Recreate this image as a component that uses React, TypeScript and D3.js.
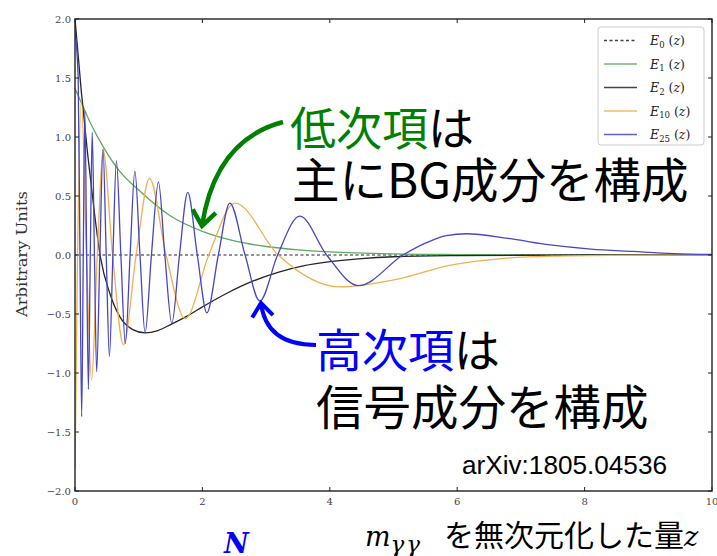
import React from 'react';
import * as d3 from 'd3';

const W = 717;
const H = 556;

const xTicks = [0, 2, 4, 6, 8, 10];
const yTicks = [-2, -1.5, -1, -0.5, 0, 0.5, 1, 1.5, 2];
const yTickLabels = ['\u22122.0', '\u22121.5', '\u22121.0', '\u22120.5', '0.0', '0.5', '1.0', '1.5', '2.0'];

const legendNames = ['0', '1', '2', '10', '25'];

// E0 (z): flat reference
const e0Z = [0, 10];
const e0V = [0, 0];

// E1 (z)
const e1Z = [0, 0.1, 0.25, 0.45, 0.7, 1.0, 1.5, 2.0, 2.5, 3.0, 3.5, 4.0, 5.0, 6.0, 7.0, 8.0, 10];
const e1V = [1.41, 1.29, 1.11, 0.91, 0.71, 0.55, 0.33, 0.2, 0.12, 0.072, 0.044, 0.027, 0.01, 0.004, 0.0015, 0.0005, 0];

// E2 (z)
const e2Z = [0, 0.1, 0.2, 0.3, 0.4, 0.55, 0.7, 0.9, 1.1, 1.3, 1.5, 1.75, 2.0, 2.4, 2.8, 3.2, 3.6, 4.0, 4.5, 5.0, 6.0, 7.0, 8.0, 10];
const e2V = [2.0, 1.38, 0.85, 0.38, -0.02, -0.33, -0.52, -0.63, -0.66, -0.64, -0.59, -0.52, -0.44, -0.32, -0.22, -0.145, -0.09, -0.057, -0.03, -0.015, -0.005, -0.002, 0, 0];

// E10 (z)
const e10Z = [0, 0.04, 0.1, 0.18, 0.26, 0.35, 0.44, 0.59, 0.76, 0.96, 1.17, 1.43, 1.73, 2.1, 2.51, 3.19, 4.16, 5.1, 5.9, 6.7, 7.5, 8.5, 10];
const e10V = [-1.8, 0, 1.31, 0, -1.06, 0, 0.89, 0, -0.76, 0, 0.65, 0, -0.54, 0, 0.44, 0, -0.27, -0.2, -0.085, -0.03, -0.01, -0.003, 0];

// E25 (z)
const e25Z = [0, 0.05, 0.078, 0.105, 0.13, 0.155, 0.183, 0.21, 0.24, 0.27, 0.305, 0.34, 0.39, 0.44, 0.49, 0.54, 0.595, 0.65, 0.72, 0.79, 0.865, 0.94, 1.02, 1.1, 1.2, 1.31, 1.41, 1.52, 1.64, 1.77, 1.92, 2.07, 2.25, 2.43, 2.67, 2.9, 3.18, 3.53, 3.95, 4.45, 5.15, 5.5, 5.83, 6.15, 6.8, 7.46, 8.1, 8.76, 9.4, 10];
const e25V = [1.9, 1.5, 0, -1.37, 0, 1.22, 0, -1.14, 0, 1.04, 0, -0.99, 0, 0.9, 0, -0.86, 0, 0.8, 0, -0.75, 0, 0.71, 0, -0.66, 0, 0.62, 0, -0.58, 0, 0.53, 0, -0.49, 0, 0.44, 0, -0.39, 0, 0.33, 0, -0.26, 0, 0.1, 0.165, 0.18, 0.14, 0.085, 0.05, 0.03, 0.012, 0.005];

const series = [
  { z: e0Z, v: e0V, color: '#222222', width: 1.1, dash: '3,2.5' },
  { z: e1Z, v: e1V, color: '#5fa85f', width: 1.3, dash: null },
  { z: e2Z, v: e2V, color: '#262626', width: 1.3, dash: null },
  { z: e10Z, v: e10V, color: '#f1b04e', width: 1.3, dash: null },
  { z: e25Z, v: e25V, color: '#4646c4', width: 1.3, dash: null },
];

const x = d3.scaleLinear().domain([0, 10]).range([75, 712]);
const y = d3.scaleLinear().domain([-2, 2]).range([491, 19]);

const line = d3
  .line<[number, number]>()
  .x((d) => x(d[0]))
  .y((d) => y(d[1]))
  .curve(d3.curveMonotoneX);

function arrowHead(tx: number, ty: number, cx: number, cy: number, len: number, ang: number) {
  const dx = cx - tx;
  const dy = cy - ty;
  const n = Math.hypot(dx, dy);
  const ux = dx / n;
  const uy = dy / n;
  const a = (ang * Math.PI) / 180;
  const r1x = ux * Math.cos(a) - uy * Math.sin(a);
  const r1y = ux * Math.sin(a) + uy * Math.cos(a);
  const r2x = ux * Math.cos(-a) - uy * Math.sin(-a);
  const r2y = ux * Math.sin(-a) + uy * Math.cos(-a);
  return `M${tx + r1x * len},${ty + r1y * len} L${tx},${ty} L${tx + r2x * len},${ty + r2y * len}`;
}

export default function App() {
  const x0 = x(0);
  const x1 = x(10);
  const yT = y(2);
  const yB = y(-2);
  const tick = 4;
  const serif = '"DejaVu Serif", serif';
  const jp = '"Noto Sans CJK JP", sans-serif';
  const legX = 598;
  const legY = 27;
  const legRow = 23.5;

  const gArrow = { sx: 283, sy: 122, cx: 215, cy: 140, tx: 202, ty: 226 };
  const bArrow = { sx: 316, sy: 345, cx: 266, cy: 345, tx: 261, ty: 303 };

  return (
    <svg width={W} height={H} style={{ position: 'absolute', left: 0, top: 0, background: '#fff' }}>
      <defs>
        <clipPath id="plot">
          <rect x={x0} y={yT} width={x1 - x0} height={yB - yT} />
        </clipPath>
      </defs>
      <rect x={0} y={0} width={W} height={H} fill="#fff" />

      <g clipPath="url(#plot)">
        {series.map((s, i) => (
          <path
            key={i}
            d={line(s.z.map((z, j) => [z, s.v[j]] as [number, number])) || ''}
            fill="none"
            stroke={s.color}
            strokeWidth={s.width}
            strokeDasharray={s.dash || undefined}
          />
        ))}
      </g>

      {/* frame */}
      <rect x={x0} y={yT} width={x1 - x0} height={yB - yT} fill="none" stroke="#222" strokeWidth={1.4} />

      {/* x ticks */}
      {xTicks.map((t) => (
        <g key={'x' + t}>
          <line x1={x(t)} x2={x(t)} y1={yB} y2={yB - tick} stroke="#222" strokeWidth={1} />
          <line x1={x(t)} x2={x(t)} y1={yT} y2={yT + tick} stroke="#222" strokeWidth={1} />
          <text x={x(t)} y={yB + 14} fontFamily={serif} fontSize={10} fill="#444" textAnchor="middle">
            {String(t)}
          </text>
        </g>
      ))}

      {/* y ticks */}
      {yTicks.map((t, i) => (
        <g key={'y' + t}>
          <line x1={x0} x2={x0 + tick} y1={y(t)} y2={y(t)} stroke="#222" strokeWidth={1} />
          <line x1={x1} x2={x1 - tick} y1={y(t)} y2={y(t)} stroke="#222" strokeWidth={1} />
          <text x={x0 - 4} y={y(t) + 3.5} fontFamily={serif} fontSize={10} fill="#444" textAnchor="end">
            {yTickLabels[i]}
          </text>
        </g>
      ))}

      <text
        transform={`translate(27,254) rotate(-90)`}
        fontFamily={serif}
        fontSize={14}
        fill="#333"
        textAnchor="middle"
        textLength={126}
        lengthAdjust="spacingAndGlyphs"
      >
        Arbitrary Units
      </text>

      {/* legend */}
      <rect x={legX} y={legY} width={106} height={118} rx={3} fill="#fff" stroke="#ccc" strokeWidth={1} />
      {series.map((s, i) => {
        const ly = legY + 13.5 + i * legRow;
        return (
          <g key={'l' + i}>
            <line
              x1={legX + 6}
              x2={legX + 39}
              y1={ly}
              y2={ly}
              stroke={s.color}
              strokeWidth={1.3}
              strokeDasharray={s.dash || undefined}
              opacity={0.85}
            />
            <text x={legX + 52} y={ly + 4.5} fontFamily={serif} fontSize={12.5} fill="#222">
              <tspan fontStyle="italic">E</tspan>
              <tspan fontSize={8.5} dy={2.5}>
                {legendNames[i]}
              </tspan>
              <tspan dy={-2.5}> (</tspan>
              <tspan fontStyle="italic">z</tspan>
              <tspan>)</tspan>
            </text>
          </g>
        );
      })}

      {/* annotations */}
      <path
        d={`M${gArrow.sx},${gArrow.sy} Q${gArrow.cx},${gArrow.cy} ${gArrow.tx},${gArrow.ty}`}
        fill="none"
        stroke="#008000"
        strokeWidth={4.5}
      />
      <path
        d={arrowHead(gArrow.tx, gArrow.ty, gArrow.cx, gArrow.cy, 19, 38)}
        fill="none"
        stroke="#008000"
        strokeWidth={4.5}
      />
      <path
        d={`M${bArrow.sx},${bArrow.sy} Q${bArrow.cx},${bArrow.cy} ${bArrow.tx},${bArrow.ty}`}
        fill="none"
        stroke="#0000ff"
        strokeWidth={4}
      />
      <path
        d={arrowHead(bArrow.tx, bArrow.ty, bArrow.cx, bArrow.cy, 17, 38)}
        fill="none"
        stroke="#0000ff"
        strokeWidth={4}
      />

      <text x={290} y={145} fontFamily={jp} fontSize={46} fill="#000">
        <tspan fill="#008000">低次項</tspan>
        <tspan>は</tspan>
      </text>
      <text x={292} y={198} fontFamily={jp} fontSize={47.5} fill="#000">
        主にBG成分を構成
      </text>
      <text x={316} y={367} fontFamily={jp} fontSize={46} fill="#000">
        <tspan fill="#0000ff">高次項</tspan>
        <tspan>は</tspan>
      </text>
      <text x={316} y={425} fontFamily={jp} fontSize={47.5} fill="#000">
        信号成分を構成
      </text>

      <text
        x={462}
        y={474}
        fontFamily='"Liberation Sans", Arial, sans-serif'
        fontSize={25}
        fill="#000"
        textLength={205}
        lengthAdjust="spacingAndGlyphs"
      >
        arXiv:1805.04536
      </text>

      <text x={224} y={553} fontFamily='"DejaVu Serif", serif' fontStyle="italic" fontWeight="bold" fontSize={27} fill="#0000ff">
        N
      </text>
      <text x={365} y={546} fill="#000">
        <tspan fontFamily='"DejaVu Serif", serif' fontStyle="italic" fontSize={27}>m</tspan>
        <tspan fontFamily='"DejaVu Serif", serif' fontStyle="italic" fontSize={23} dy={6} letterSpacing={2}>γγ</tspan>
        <tspan fontFamily={jp} fontSize={30} x={444} dy={-6}>を無次元化した量</tspan>
        <tspan fontFamily='"DejaVu Serif", serif' fontStyle="italic" fontSize={27}>z</tspan>
      </text>
    </svg>
  );
}
